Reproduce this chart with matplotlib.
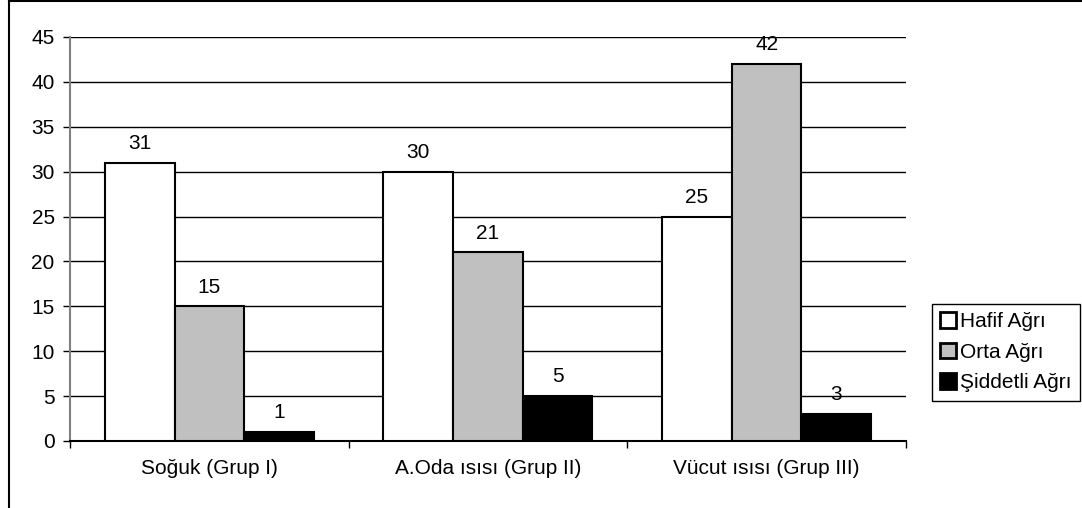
import numpy as np
import matplotlib.pyplot as plt
from matplotlib.lines import Line2D

plt.rcParams['font.family'] = ['Liberation Sans', 'DejaVu Sans']
plt.rcParams['font.size'] = 15

# veriler
groups = ['Soğuk (Grup I)', 'A.Oda ısısı (Grup II)', 'Vücut ısısı (Grup III)']
series = ['Hafif Ağrı', 'Orta Ağrı', 'Şiddetli Ağrı']
hafif = [31, 30, 25]
orta = [15, 21, 42]
siddetli = [1, 5, 3]
colors = ['white', '#C0C0C0', 'black']

fig = plt.figure(figsize=(10.82, 5.08), dpi=100)
ax = fig.add_axes([70 / 1082, 67 / 508, 836 / 1082, 404 / 508])

x = np.arange(len(groups))
w = 0.25
handles = []
for i, (vals, c, name) in enumerate(zip([hafif, orta, siddetli], colors, series)):
    bars = ax.bar(x + (i - 1) * w, vals, w, color=c, edgecolor='black',
                  linewidth=1.5, label=name, zorder=3)
    handles.append(bars)
    for b, v in zip(bars, vals):
        ax.annotate(str(v), (b.get_x() + b.get_width() / 2, v),
                    xytext=(0, 7), textcoords='offset points',
                    ha='center', va='bottom', fontsize=15, zorder=4)

ax.set_xlim(-0.5, 2.5)
ax.set_ylim(0, 45)
ax.set_yticks(range(0, 46, 5))
ax.yaxis.grid(True, color='black', linewidth=1)
ax.set_axisbelow(True)

# kategori sınırlarında tik, ortada etiket
ax.set_xticks([-0.5, 0.5, 1.5, 2.5])
ax.set_xticklabels([])
ax.set_xticks(x, minor=True)
ax.set_xticklabels(groups, minor=True)
ax.tick_params(axis='x', which='major', length=5, width=1, direction='out')
ax.tick_params(axis='x', which='minor', length=0, pad=13)
ax.tick_params(axis='y', length=5, width=1, pad=6, color='black')

for s in ['top', 'right']:
    ax.spines[s].set_visible(False)
ax.spines['left'].set_color('#808080')
ax.spines['left'].set_linewidth(1.5)
ax.spines['bottom'].set_color('black')
ax.spines['bottom'].set_linewidth(1.5)

leg = fig.legend(handles=handles, labels=series, loc='upper left',
                 bbox_to_anchor=(932 / 1082, 1 - 304 / 508),
                 fancybox=False, edgecolor='black', framealpha=1,
                 handlelength=0.75, handleheight=0.75, handletextpad=0.2,
                 borderpad=0.4, labelspacing=0.55, borderaxespad=0, fontsize=15)
leg.get_frame().set_linewidth(1)
for h in leg.legend_handles:
    h.set_linewidth(2)

# dış çerçeve
fig.add_artist(Line2D([9 / 1082, 9 / 1082], [0, 1], color='black', linewidth=1.5,
                      transform=fig.transFigure))
fig.add_artist(Line2D([9 / 1082, 1], [1 - 0.5 / 508, 1 - 0.5 / 508], color='black',
                      linewidth=1.5, transform=fig.transFigure))

fig.savefig('out.png', dpi=100)
